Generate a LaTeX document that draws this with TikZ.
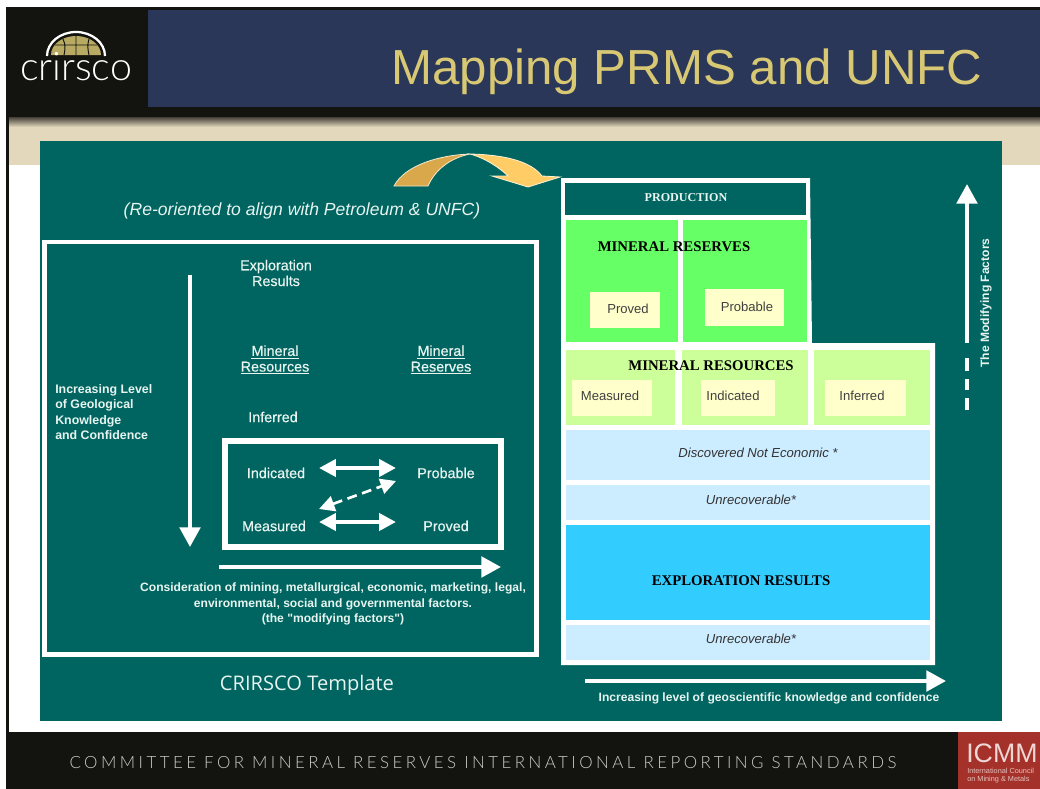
\documentclass[tikz,border=0pt]{standalone}
\usepackage{fontspec}
\defaultfontfeatures[\rmfamily]{}
\setmainfont{Liberation Sans}
\newfontfamily\serifbold[BoldFont=Liberation Serif Bold]{Liberation Serif}
\newfontfamily\semifont[FakeBold=0.5]{Liberation Sans}
\newfontfamily\footfont[LetterSpace=20.6]{Lato Light}
\newfontfamily\logofont{Lato Light}
\newfontfamily\tplfont{Open Sans}
\usetikzlibrary{arrows.meta,shadings}
\definecolor{T1}{RGB}{0,101,96}
\definecolor{N1}{RGB}{42,55,88}
\definecolor{K1}{RGB}{19,19,15}
\definecolor{B1}{RGB}{227,216,188}
\definecolor{G1}{RGB}{217,200,115}
\definecolor{G2}{RGB}{102,255,102}
\definecolor{G3}{RGB}{204,255,153}
\definecolor{C2}{RGB}{255,255,204}
\definecolor{L1}{RGB}{204,236,255}
\definecolor{L2}{RGB}{51,204,255}
\definecolor{R1}{RGB}{165,50,42}
\definecolor{W1}{RGB}{232,244,240}
\definecolor{A1}{RGB}{217,168,74}
\definecolor{A2}{RGB}{255,204,102}
\newcommand{\fsz}[1]{\fontsize{#1}{#1}\selectfont}
\tikzset{
  wlabel/.style={text=W1, inner sep=0, align=center, font=\fsz{10.2}\semifont},
  clabel/.style={text=black!75, inner sep=0, font=\fsz{9.3}},
  slabel/.style={text=black, inner sep=0, font=\fsz{10.5}\serifbold\bfseries},
  ilabel/.style={text=black!80, inner sep=0, font=\fsz{9.3}\itshape},
  bigarrow/.style={white, line width=3pt, -{Triangle[length=14pt,width=14.5pt]}},
  dblarrow/.style={white, line width=3.2pt, {Triangle[length=12pt,width=12pt]}-{Triangle[length=12pt,width=12pt]}},
}
\begin{document}
\begin{tikzpicture}[x=0.025cm,y=-0.025cm]
    \useasboundingbox (0,0) rectangle (1040,789);
    \fill[white] (0,0) rectangle (1040,789);
    % slide frame and bands
    \fill[B1] (9,117) rectangle (1040,165);
    \shade[top color=black!70!B1, bottom color=B1] (9,117) rectangle (1040,127);
    \fill[K1] (6,7) rectangle (1040,117);
    \fill[K1] (6,117) rectangle (9,735);
    \fill[N1] (148,10) rectangle (1040,107);
    \fill[K1] (6,732) rectangle (1040,789);
    \fill[R1] (958,732) rectangle (1040,789);
    \node[text=G1, inner sep=0, font=\fsz{35}] (title) at (687,72) {Mapping PRMS and UNFC};
    % logo
    \fill[G1!85!black] (51,55) arc[start angle=180, end angle=360, x radius=25, y radius=19] -- cycle;
    \draw[K1, line width=.7pt] (76,36) -- (76,55) (55,45) -- (97,45) (63,39) .. controls (66,45) and (65,50) .. (64,55) (89,39) .. controls (87,45) and (88,50) .. (89,55);
    \draw[white, line width=1.6pt] (47,56) arc[start angle=180, end angle=360, x radius=29, y radius=24];
    \node[text=white, inner sep=0, anchor=base, font=\fsz{28}\logofont] (logo) at (76,80) {crirsco};
    % footer
    \node[text=white!80!black, inner sep=0, font=\fsz{12}\footfont] (foot) at (483,763) {COMMITTEE FOR MINERAL RESERVES INTERNATIONAL REPORTING STANDARDS};
    \node[text=white!80!R1, inner sep=0, anchor=west, font=\fsz{19}] (icmm) at (966,753) {ICMM};
    \node[text=white!70!R1, inner sep=0, anchor=west, align=left, font=\fsz{5.2}] (icmmsub) at (967,775.5) {International Council\\[1pt]on Mining \& Metals};
    % teal panel
    \fill[T1] (40,141) rectangle (1002,721);
    \filldraw[fill=A1, draw=white!70!A1, line width=.6pt]
      (394,186) .. controls (405,165) and (440,155) .. (470,154) .. controls (450,158) and (435,170) .. (428,186) -- cycle;
    \filldraw[fill=A2, draw=white!70!A2, line width=.6pt]
      (470,154) .. controls (510,155) and (532,163) .. (542,176) -- (560,177) -- (528,187) -- (492,176) -- (508,176) .. controls (500,168) and (485,158) .. (470,154) -- cycle;
    \node[wlabel, font=\fsz{12.5}\itshape] (reor) at (302,211) {(Re-oriented to align with Petroleum \& UNFC)};
    % CRIRSCO template
    \draw[white, line width=3.2pt] (44.5,242) rectangle (536.5,654.5);
    \draw[white, line width=3.9pt] (225,441) rectangle (501,547);
    \node[wlabel] (expl) at (276,273) {Exploration\\[1pt]Results};
    \node[wlabel] (mres) at (275,360) {\underline{Mineral}\\[1pt]\underline{Resources}};
    \node[wlabel] (mrsv) at (441,360) {\underline{Mineral}\\[1pt]\underline{Reserves}};
    \node[wlabel] (infr) at (273,417) {Inferred};
    \node[wlabel] (indi) at (276,473) {Indicated};
    \node[wlabel] (prob) at (446,473) {Probable};
    \node[wlabel] (meas) at (274,526) {Measured};
    \node[wlabel] (prov) at (446,526) {Proved};
    \node[wlabel, anchor=north west, align=left, font=\fsz{8.8}\bfseries] (incr) at (55,384) {Increasing Level\\[2.2pt]of Geological\\[2.2pt]Knowledge\\[2.2pt]and Confidence};
    \node[wlabel, font=\fsz{8.6}\bfseries] (cons) at (333,604) {Consideration of mining, metallurgical, economic, marketing, legal,\\[2.4pt]environmental, social and governmental factors.\\[2.4pt](the "modifying factors")};
    \node[wlabel, font=\fsz{14.3}\tplfont] (tmpl) at (307,685) {CRIRSCO Template};
    \coordinate (da) at (190,275); \coordinate (db) at (190,547);
    \coordinate (ha) at (219,567); \coordinate (hb) at (501,567);
    \coordinate (ia) at (319,468); \coordinate (ib) at (396,468);
    \coordinate (ma) at (319,522); \coordinate (mb) at (396,522);
    \coordinate (xa) at (319,509); \coordinate (xb) at (396,481);
    \draw[bigarrow] (da) -- (db);
    \draw[bigarrow] (ha) -- (hb);
    \draw[dblarrow] (ia) -- (ib);
    \draw[dblarrow] (ma) -- (mb);
    \draw[white, line width=1.9pt, dash pattern=on 7pt off 4pt, {Triangle[length=11pt,width=11pt]}-{Triangle[length=11pt,width=11pt]}] (xa) -- (xb);
    % PRMS stack
    \fill[white] (561,178) -- (810,178) -- (812,343) -- (935,343) -- (935,665) -- (561,665) -- cycle;
    \fill[T1] (565,183) rectangle (806,215);
    \fill[G2] (566,220) rectangle (678,342);
    \fill[G2] (683,220) rectangle (807,342);
    \fill[G3] (566,350) rectangle (675,425);
    \fill[G3] (682,350) rectangle (808,425);
    \fill[G3] (814,350) rectangle (930,425);
    \fill[L1] (566,430) rectangle (930,480);
    \fill[L1] (566,485) rectangle (930,520);
    \fill[L2] (566,525) rectangle (930,620);
    \fill[L1] (566,625) rectangle (930,660);
    \fill[C2] (590,292) rectangle (660,328);
    \fill[C2] (705,289) rectangle (784,326);
    \fill[C2] (572,380) rectangle (652,416);
    \fill[C2] (701,380) rectangle (775,416);
    \fill[C2] (825,380) rectangle (906,416);
    \node[slabel, text=W1, font=\fsz{8.6}\serifbold\bfseries] (prod) at (686,198) {PRODUCTION};
    \node[slabel] (srsv) at (674,247) {MINERAL RESERVES};
    \node[slabel] (sres) at (711,366) {MINERAL RESOURCES};
    \node[slabel] (sexp) at (741,581) {EXPLORATION RESULTS};
    \node[clabel] (bprov) at (628,309) {Proved};
    \node[clabel] (bprob) at (747,307) {Probable};
    \node[clabel] (bmeas) at (610,396) {Measured};
    \node[clabel] (bindi) at (733,396) {Indicated};
    \node[clabel] (binfr) at (862,396) {Inferred};
    \node[ilabel] (disc) at (758,453) {Discovered Not Economic *};
    \node[ilabel] (unra) at (751,500) {Unrecoverable*};
    \node[ilabel] (unrb) at (751,639) {Unrecoverable*};
    % side arrows
    \coordinate (ua) at (967,343); \coordinate (ub) at (967,184);
    \coordinate (ra) at (585,681); \coordinate (rb) at (946,681);
    \draw[bigarrow] (ua) -- (ub);
    \draw[bigarrow] (ra) -- (rb);
    \draw[white, line width=3.2pt] (967,358) -- (967,371) (967,379) -- (967,390) (967,398) -- (967,410);
    \node[wlabel, rotate=90, font=\fsz{8.6}\bfseries] (modf) at (986,303) {The Modifying Factors};
    \node[wlabel, font=\fsz{8.6}\bfseries] (geos) at (769,698) {Increasing level of geoscientific knowledge and confidence};
\end{tikzpicture}
\end{document}
